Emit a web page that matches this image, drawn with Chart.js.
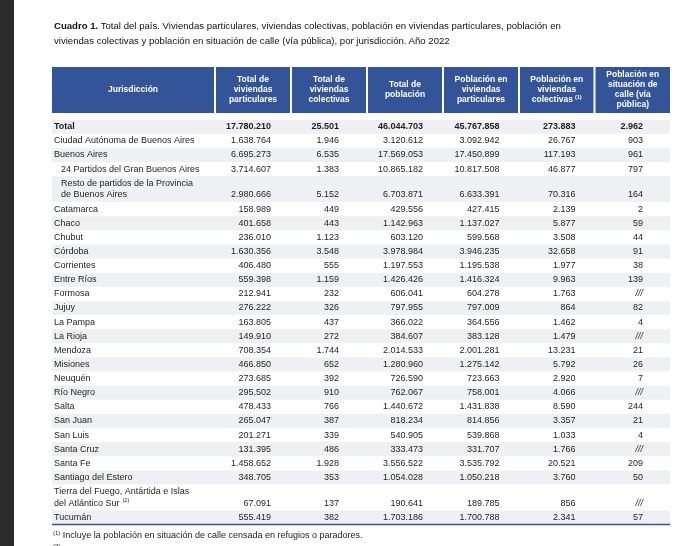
<!DOCTYPE html>
<html lang="es">
<head>
<meta charset="utf-8">
<title>Cuadro 1</title>
<script src="https://cdn.jsdelivr.net/npm/chart.js@4.4.0/dist/chart.umd.min.js"></script>
<style>
  html, body { margin: 0; padding: 0; background: #fff; }
  body { width: 680px; height: 546px; overflow: hidden; position: relative;
         font-family: "Liberation Sans", Arial, sans-serif; color: #1b1b1b; }
  #franja { position: absolute; left: 0; top: 0; width: 14px; height: 546px; background: #2b2b2b; }
  #c { position: absolute; left: 0; top: 0; }
  #titulo { position: absolute; left: 54px; top: 19px; font-size: 9.6px; line-height: 14.8px; white-space: nowrap; color: #111; }
  #notas { position: absolute; left: 53px; top: 529px; font-size: 9px; line-height: 13px; white-space: nowrap; color: #222; }
  sup { font-size: 6px; vertical-align: 3px; line-height: 0; }
</style>
</head>
<body>
<div id="franja"></div>
<canvas id="c" width="680" height="546"></canvas>
<div id="titulo"><b>Cuadro 1.</b> Total del país. Viviendas particulares, viviendas colectivas, población en viviendas particulares, población en<br>viviendas colectivas y población en situación de calle (vía pública), por jurisdicción. Año 2022</div>
<div id="notas"><sup>(1)</sup> Incluye la población en situación de calle censada en refugios o paradores.<br><sup>(2)</sup></div>
<script>
// ─── DATOS ───
const columnas = [
  ['Jurisdicción'],
  ['Total de', 'viviendas', 'particulares'],
  ['Total de', 'viviendas', 'colectivas'],
  ['Total de', 'población'],
  ['Población en', 'viviendas', 'particulares'],
  ['Población en', 'viviendas', 'colectivas'],
  ['Población en', 'situación de', 'calle (vía', 'pública)']
];
const notasColumna = ['', '', '', '', '', '(1)', ''];

const jurisdicciones = [
  'Total',
  'Ciudad Autónoma de Buenos Aires',
  'Buenos Aires',
  '24 Partidos del Gran Buenos Aires',
  'Resto de partidos de la Provincia\nde Buenos Aires',
  'Catamarca', 'Chaco', 'Chubut', 'Córdoba', 'Corrientes', 'Entre Ríos',
  'Formosa', 'Jujuy', 'La Pampa', 'La Rioja', 'Mendoza', 'Misiones',
  'Neuquén', 'Río Negro', 'Salta', 'San Juan', 'San Luis', 'Santa Cruz',
  'Santa Fe', 'Santiago del Estero',
  'Tierra del Fuego, Antártida e Islas\ndel Atlántico Sur',
  'Tucumán'
];
const notasFila = { 25: '(2)' };
const subdivisiones = [3, 4]; // partidos de Buenos Aires, con sangría

const viviendasParticulares = [17780210, 1638764, 6695273, 3714607, 2980666, 158989, 401658, 236010, 1630356, 406480, 559398, 212941, 276222, 163805, 149910, 708354, 466850, 273685, 295502, 478433, 265047, 201271, 131395, 1458652, 348705, 67091, 555419];
const viviendasColectivas = [25501, 1946, 6535, 1383, 5152, 449, 443, 1123, 3548, 555, 1159, 232, 326, 437, 272, 1744, 652, 392, 910, 766, 387, 339, 486, 1928, 353, 137, 382];
const totalPoblacion = [46044703, 3120612, 17569053, 10865182, 6703871, 429556, 1142963, 603120, 3978984, 1197553, 1426426, 606041, 797955, 366022, 384607, 2014533, 1280960, 726590, 762067, 1440672, 818234, 540905, 333473, 3556522, 1054028, 190641, 1703186];
const poblacionParticulares = [45767858, 3092942, 17450899, 10817508, 6633391, 427415, 1137027, 599568, 3946235, 1195538, 1416324, 604278, 797009, 364556, 383128, 2001281, 1275142, 723663, 758001, 1431838, 814856, 539868, 331707, 3535792, 1050218, 189785, 1700788];
const poblacionColectivas = [273883, 26767, 117193, 46877, 70316, 2139, 5877, 3508, 32658, 1977, 9963, 1763, 864, 1462, 1479, 13231, 5792, 2920, 4066, 8590, 3357, 1033, 1766, 20521, 3760, 856, 2341];
const situacionCalle = [2962, 903, 961, 797, 164, 2, 59, 44, 91, 38, 139, null, 82, 4, null, 21, 26, 7, null, 244, 21, 4, null, 209, 50, null, 57];

const series = [viviendasParticulares, viviendasColectivas, totalPoblacion, poblacionParticulares, poblacionColectivas, situacionCalle];

// ─── DISEÑO ───
const AZUL = '#34549a';
const GRIS = '#eef0f3';
const TEXTO = '#1e1e1e';
const FUENTE = '"Liberation Sans", Arial, sans-serif';

const TABLA_IZQ = 52, TABLA_SUP = 67;
const anchosCol = [163, 76, 76, 76, 76, 75.5, 75.5];
const margenNum = [0, 20, 28, 20, 19.5, 19, 27];
const ALTO_CAB = 46;
const INICIO_FILAS = 52.7;
const ALTO_FILA = 14.12;
const EXTRA_LINEA = 11.8;
const INTERLINEA = 11.7;

const bordes = anchosCol.reduce((acc, w) => { acc.push(acc[acc.length - 1] + w); return acc; }, [0]);
const anchoTotal = bordes[bordes.length - 1];

const lineasFila = jurisdicciones.map(j => j.split('\n'));
const topesFila = [];
let acum = INICIO_FILAS;
lineasFila.forEach(l => {
  topesFila.push(acum);
  acum += ALTO_FILA + (l.length - 1) * EXTRA_LINEA;
});
const altoTotal = acum;

const fmt = v => v === null ? '///' : String(v).replace(/\B(?=(\d{3})+(?!\d))/g, '.');

// ─── PLUGIN DE TABLA ───
const tabla = {
  id: 'tabla',
  beforeDraw(chart) {
    const { ctx } = chart;
    const px = v => chart.scales.x.getPixelForValue(v);
    const py = v => chart.scales.y.getPixelForValue(v);
    ctx.save();

    // Encabezado
    const yCab0 = py(0), yCab1 = py(ALTO_CAB);
    columnas.forEach((lineas, c) => {
      const x0 = px(bordes[c]) + (c ? 1 : 0);
      const x1 = px(bordes[c + 1]) - (c < columnas.length - 1 ? 1 : 0);
      ctx.fillStyle = AZUL;
      ctx.fillRect(x0, yCab0, x1 - x0, yCab1 - yCab0);

      ctx.fillStyle = '#ffffff';
      ctx.font = 'bold 8.5px ' + FUENTE;
      ctx.textAlign = 'center';
      ctx.textBaseline = 'middle';
      const cx = (x0 + x1) / 2;
      const lh = 10;
      const yMid = (yCab0 + yCab1) / 2;
      lineas.forEach((t, i) => {
        const yy = yMid + (i - (lineas.length - 1) / 2) * lh;
        const nota = notasColumna[c];
        if (nota && i === lineas.length - 1) {
          const w = ctx.measureText(t).width;
          ctx.font = 'bold 5.5px ' + FUENTE;
          const wn = ctx.measureText(nota).width + 2;
          ctx.font = 'bold 8.5px ' + FUENTE;
          const xs = cx - (w + wn) / 2;
          ctx.textAlign = 'left';
          ctx.fillText(t, xs, yy);
          ctx.font = 'bold 5.5px ' + FUENTE;
          ctx.fillText(nota, xs + w + 2, yy - 3);
          ctx.font = 'bold 8.5px ' + FUENTE;
          ctx.textAlign = 'center';
        } else {
          ctx.fillText(t, cx, yy);
        }
      });
    });

    // Filas
    lineasFila.forEach((lineas, r) => {
      const top = topesFila[r];
      const bottom = r + 1 < topesFila.length ? topesFila[r + 1] : altoTotal;
      const y0 = py(top), y1 = py(bottom);
      if (r % 2 === 0) {
        ctx.fillStyle = GRIS;
        ctx.fillRect(px(0), y0, px(anchoTotal) - px(0), y1 - y0);
      }
      const negrita = r === 0 ? 'bold ' : '';
      ctx.fillStyle = TEXTO;
      ctx.textBaseline = 'middle';
      ctx.font = negrita + '9px ' + FUENTE;
      ctx.textAlign = 'left';
      const sangria = subdivisiones.includes(r) ? 9 : 2;
      const yMid = (y0 + y1) / 2;
      const yUltima = yMid + (lineas.length - 1) / 2 * INTERLINEA;
      lineas.forEach((t, i) => {
        const yy = yMid + (i - (lineas.length - 1) / 2) * INTERLINEA;
        ctx.fillText(t, px(bordes[0]) + sangria, yy);
        if (notasFila[r] && i === lineas.length - 1) {
          const w = ctx.measureText(t).width;
          ctx.font = '5.5px ' + FUENTE;
          ctx.fillText(notasFila[r], px(bordes[0]) + sangria + w + 3, yy - 3);
          ctx.font = negrita + '9px ' + FUENTE;
        }
      });

      ctx.textAlign = 'right';
      series.forEach((serie, s) => {
        const v = serie[r];
        ctx.font = (v === null ? 'italic ' : negrita) + '9px ' + FUENTE;
        ctx.fillText(fmt(v), px(bordes[s + 2]) - margenNum[s + 1], yUltima);
      });
    });

    // Línea de cierre
    ctx.strokeStyle = AZUL;
    ctx.lineWidth = 1.5;
    ctx.beginPath();
    ctx.moveTo(px(0), py(altoTotal));
    ctx.lineTo(px(anchoTotal), py(altoTotal));
    ctx.stroke();

    ctx.restore();
  }
};

new Chart(document.getElementById('c'), {
  type: 'scatter',
  data: { datasets: [] },
  options: {
    responsive: false,
    animation: false,
    devicePixelRatio: 1,
    layout: {
      padding: {
        left: TABLA_IZQ,
        top: TABLA_SUP,
        right: 680 - TABLA_IZQ - anchoTotal,
        bottom: 546 - TABLA_SUP - altoTotal
      }
    },
    scales: {
      x: { type: 'linear', min: 0, max: anchoTotal, display: false },
      y: { type: 'linear', min: 0, max: altoTotal, reverse: true, display: false }
    },
    plugins: { legend: { display: false }, tooltip: { enabled: false } }
  },
  plugins: [tabla]
});
</script>
</body>
</html>
